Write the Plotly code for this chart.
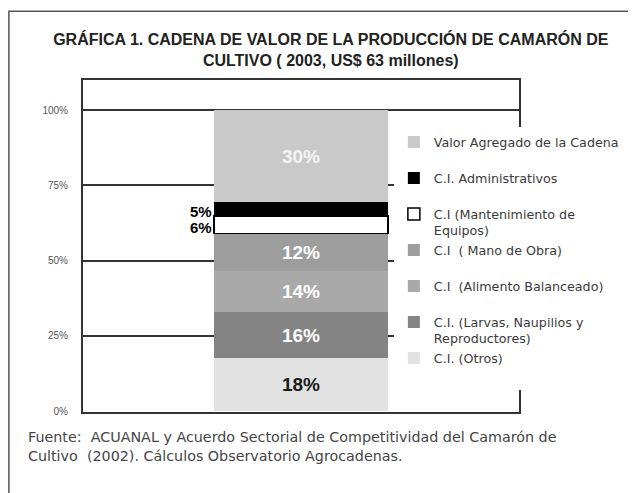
import plotly.graph_objects as go

# stacked shares of the value chain, bottom to top (percent of US$ 63 millones)
categories = ["Cadena"]
series_names = [
    "C.I. (Otros)",
    "C.I. (Larvas, Naupilios y<br>Reproductores)",
    "C.I  (Alimento Balanceado)",
    "C.I  ( Mano de Obra)",
    "C.I (Mantenimiento de<br>Equipos)",
    "C.I. Administrativos",
    "Valor Agregado de la Cadena",
]
series_values = [17.6, 15.3, 13.8, 12.3, 5.9, 4.6, 30.5]
value_labels = ["18%", "16%", "14%", "12%", "6%", "5%", "30%"]
inside_label = [True, True, True, True, False, False, True]

colors = ["#e2e2e2", "#848484", "#a9a9a9", "#9d9d9d", "#ffffff", "#000000", "#c9c9c9"]
label_colors = ["#1a1a1a", "#ffffff", "#ffffff", "#ffffff", "#000000", "#000000", "#f4f4f4"]
line_widths = [0, 0, 0, 0, 1.5, 0, 0]

y_ticks = [0, 25, 50, 75, 100]
y_tick_text = ["0%", "25%", "50%", "75%", "100%"]

fig = go.Figure()
for name, val, lab, inside, col, lcol, lw in zip(series_names, series_values, value_labels,
                                                 inside_label, colors, label_colors, line_widths):
    fig.add_trace(go.Bar(
        x=categories, y=[val], name=name + ("" if "<br>" in name else "<br> "),
        width=0.4,
        marker=dict(color=col, line=dict(color="#000000", width=lw)),
        text=[lab if inside else ""], textposition="inside", insidetextanchor="middle",
        textfont=dict(family="Liberation Sans", size=19, color=lcol, weight="bold"),
        hoverinfo="skip",
    ))

# small segments get their labels on the left of the bar
base = 0
for val, lab, inside in zip(series_values, value_labels, inside_label):
    if not inside:
        fig.add_annotation(x=-0.2, y=base + val / 2, xref="x", yref="y", text="<b>" + lab + "</b>",
                           showarrow=False, xanchor="right", yanchor="middle", yshift=-3,
                           font=dict(family="Liberation Sans", size=15, color="#000000"))
    base += val

fig.add_annotation(
    x=-0.13, y=-0.045, xref="paper", yref="paper", xanchor="left", yanchor="top", align="left",
    text="Fuente:  ACUANAL y Acuerdo Sectorial de Competitividad del Camarón de<br>"
         "Cultivo  (2002). Cálculos Observatorio Agrocadenas.",
    showarrow=False, font=dict(family="DejaVu Sans", size=14.3, color="#444444"),
)

# outer frame of the figure
fig.add_shape(type="rect", xref="paper", yref="paper", x0=-0.17, x1=1.3, y0=-0.3, y1=1.207,
              line=dict(color="#555555", width=1.5), layer="above")

# page body adds 8px, so the figure is 8px smaller than the window
fig.update_layout(
    width=628, height=485,
    margin=dict(l=75, r=117, t=72, b=81, autoexpand=False),
    paper_bgcolor="white", plot_bgcolor="white",
    barmode="stack",
    title=dict(
        text="GRÁFICA 1. CADENA DE VALOR DE LA PRODUCCIÓN DE CAMARÓN DE<br>CULTIVO ( 2003, US$ 63 millones)",
        x=0.514, xanchor="center", y=0.924, yanchor="top",
        font=dict(family="Liberation Sans", size=16, color="#222222", weight="bold"),
    ),
    showlegend=True,
    legend=dict(
        x=0.713, y=0.858, xanchor="left", yanchor="top",
        traceorder="reversed", valign="top",
        bgcolor="white", borderwidth=0,
        font=dict(family="DejaVu Sans", size=12.7, color="#3a3a3a"),
    ),
    xaxis=dict(range=[-0.5, 0.5], showticklabels=False, showgrid=False, zeroline=False,
               showline=True, linecolor="#333333", linewidth=2, mirror=True, ticks=""),
    yaxis=dict(range=[-0.3, 110], tickvals=y_ticks, ticktext=y_tick_text, showgrid=True,
               gridcolor="#333333", gridwidth=1.5, zeroline=False,
               showline=True, linecolor="#333333", linewidth=2, mirror=True,
               ticks="", ticklabelstandoff=11,
               tickfont=dict(family="Liberation Sans", size=10, color="#555555")),
)

fig.write_html("out.html")
